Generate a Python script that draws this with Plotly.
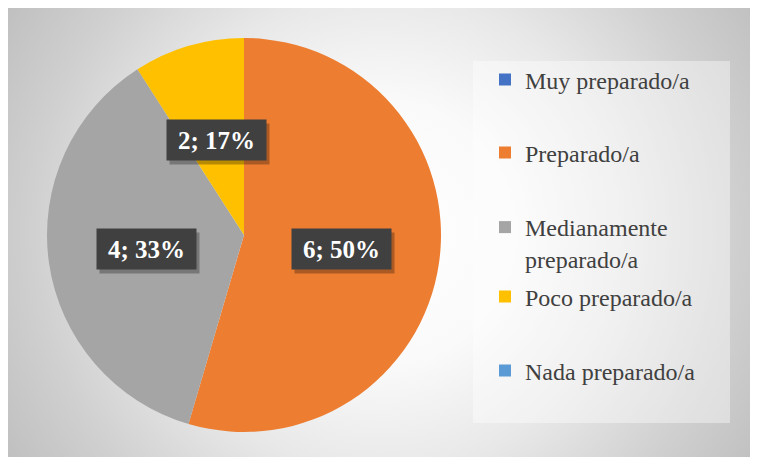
import math, base64
import plotly.graph_objects as go

# ---- data ----
categories = ["Muy preparado/a", "Preparado/a", "Medianamente preparado/a",
              "Poco preparado/a", "Nada preparado/a"]
legend_names = ["Muy preparado/a", "Preparado/a", "Medianamente<br>preparado/a",
                "Poco preparado/a", "Nada preparado/a"]
values = [0, 6, 4, 1, 0]
label_texts = [None, "6; 50%", "4; 33%", "2; 17%", None]
colors = ["#4472C4", "#ED7D31", "#A5A5A5", "#FFC000", "#5B9BD5"]

W, H = 758, 457
# page body has an 8px margin, so visible figure area is 750x449
PW, PH = 750, 449
dom_x = [(236 - 197) / W, (236 + 197) / W]
dom_y = [1 - 424 / H, 1 - 30 / H]

fig = go.Figure()
fig.add_trace(go.Pie(
    labels=categories, values=values, sort=False, direction="clockwise",
    rotation=0, marker=dict(colors=colors, line=dict(width=0)),
    textinfo="none", showlegend=False, domain=dict(x=dom_x, y=dom_y),
    hoverinfo="label+value+percent"))

legend_ids = ["legend", "legend2", "legend3", "legend4", "legend5"]
legend_y = [72, 145, 235, 289, 363]
for name, col, lid in zip(legend_names, colors, legend_ids):
    fig.add_trace(go.Scatter(x=[None], y=[None], mode="markers", name=name,
                             marker=dict(symbol="square", size=12, color=col),
                             legend=lid, hoverinfo="skip"))

legend_font = dict(family="Liberation Serif, Times New Roman, serif", size=24, color="#404040")
layout_legends = {}
for lid, yy in zip(legend_ids, legend_y):
    layout_legends[lid] = dict(x=477 / W, xanchor="left", y=1 - yy / H, yanchor="middle",
                               bgcolor="rgba(0,0,0,0)", borderwidth=0, font=legend_font,
                               valign="top", itemclick=False)

cx = (dom_x[0] + dom_x[1]) / 2 * W
cy = (1 - (dom_y[0] + dom_y[1]) / 2) * H
R = min((dom_x[1] - dom_x[0]) * W, (dom_y[1] - dom_y[0]) * H) / 2
total = sum(values)
annotations = []
cum = 0
for v, t in zip(values, label_texts):
    frac = v / total
    if v > 0 and t:
        theta = 2 * math.pi * (cum + frac / 2)
        px = cx + 0.5 * R * math.sin(theta)
        py = cy - 0.5 * R * math.cos(theta)
        common = dict(x=px / W, y=1 - py / H, xref="paper", yref="paper", showarrow=False,
                      xanchor="center", yanchor="middle",
                      width=95, height=36, borderpad=2, align="center", valign="middle")
        annotations.append(dict(text=" ", bgcolor="rgba(0,0,0,0.28)", xshift=3, yshift=-4,
                                font=dict(family="Liberation Serif", size=25, color="white"),
                                **common))
        annotations.append(dict(text="<b>%s</b>" % t, bgcolor="#404040",
                                font=dict(family="Liberation Serif", size=25, color="white"),
                                **common))
    cum += frac

svg = f'''<svg xmlns="http://www.w3.org/2000/svg" width="{W}" height="{H}">
<defs><radialGradient id="g" gradientUnits="userSpaceOnUse" cx="{PW/2}" cy="{PH/2}" r="437">
<stop offset="0" stop-color="#ffffff"/><stop offset="0.3" stop-color="#fafafa"/>
<stop offset="0.55" stop-color="#e8e8e8"/><stop offset="0.8" stop-color="#d0d0d0"/>
<stop offset="1" stop-color="#c0c0c0"/></radialGradient></defs>
<rect width="{W}" height="{H}" fill="url(#g)"/></svg>'''
src = "data:image/svg+xml;base64," + base64.b64encode(svg.encode()).decode()

fig.update_layout(
    width=W, height=H, margin=dict(l=0, r=0, t=0, b=0),
    paper_bgcolor="#c4c4c4", plot_bgcolor="rgba(0,0,0,0)",
    xaxis=dict(visible=False), yaxis=dict(visible=False),
    images=[dict(source=src, xref="paper", yref="paper", x=0, y=1,
                 sizex=1, sizey=1, sizing="stretch", layer="below",
                 xanchor="left", yanchor="top")],
    shapes=[dict(type="rect", xref="paper", yref="paper", x0=465 / W, x1=722 / W,
                 y0=1 - 415 / H, y1=1 - 53 / H, fillcolor="rgba(255,255,255,0.4)",
                 line=dict(width=0), layer="below")],
    annotations=annotations,
    **layout_legends)

fig.write_html("out.html")
